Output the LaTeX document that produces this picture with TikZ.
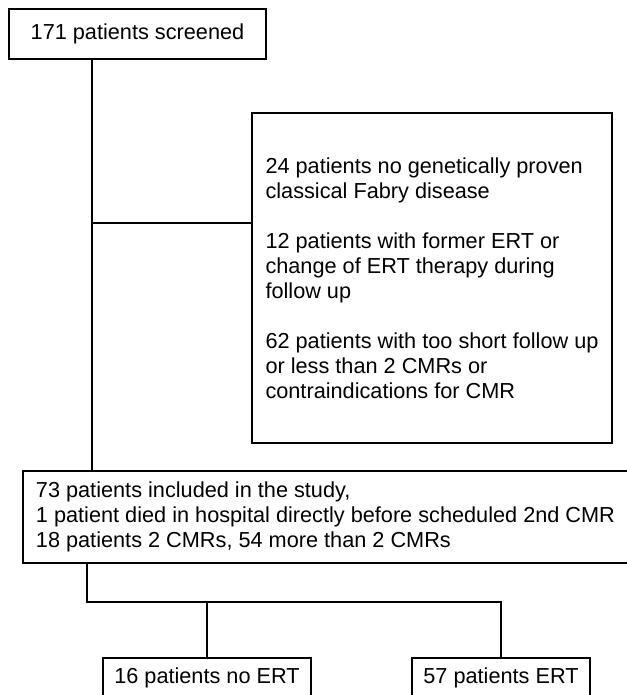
\documentclass[tikz,border=0pt]{standalone}
\usepackage{fontspec}
\setmainfont{Liberation Sans}
\usepackage{tikz}
\usetikzlibrary{calc,positioning}

\begin{document}
\begin{tikzpicture}[scale=1,
  box/.style={draw,line width=1.7pt,inner sep=0pt,font=\fontsize{12.35pt}{14.23pt}\selectfont},
  link/.style={line width=1.7pt}]
\useasboundingbox (0,0) rectangle (12.54,13.90);
\node[box,minimum width=5.14cm,minimum height=1cm] (screened) at (2.75,13.22) {171 patients screened};
\node[box,minimum width=7.2cm,minimum height=6.6cm,align=left] (excluded) at (8.64,8.34)
  {24 patients no genetically proven\\classical Fabry disease\\[0.5cm]
   12 patients with former ERT or\\change of ERT therapy during\\follow up\\[0.5cm]
   62 patients with too short follow up\\or less than 2 CMRs or\\contraindications for CMR};
\node[box,minimum width=12.1cm,minimum height=1.84cm,align=left] (included) at (6.51,3.56)
  {73 patients included in the study,\\1 patient died in hospital directly before scheduled 2nd CMR\\18 patients 2 CMRs, 54 more than 2 CMRs};
\node[box,minimum width=4.16cm,minimum height=0.78cm] (noert) at (4.14,0.35) {16 patients no ERT};
\node[box,minimum width=3.56cm,minimum height=0.78cm] (ert) at (10.02,0.35) {57 patients ERT};
\coordinate (trunk) at (1.84,9.44);
\coordinate (split) at (1.74,1.86);
\draw[link] (trunk |- screened.south) -- (trunk |- included.north);
\draw[link] (trunk) -- (trunk -| excluded.west);
\draw[link] (split |- included.south) -- (split) -- (split -| ert.north) -- (ert.north);
\draw[link] (noert.north |- split) -- (noert.north);
\end{tikzpicture}
\end{document}
